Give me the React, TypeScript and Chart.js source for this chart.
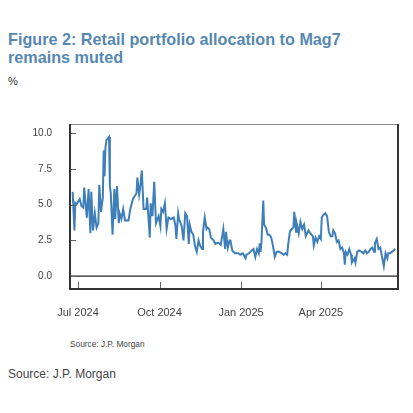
import React, { useEffect, useRef } from "react";
import { Chart, registerables } from "chart.js";

Chart.register(...registerables);

const TITLE_LINES = ["Figure 2: Retail portfolio allocation to Mag7", "remains muted"];
const UNIT_LABEL = "%";
const SOURCE_INNER = "Source: J.P. Morgan";
const SOURCE_OUTER = "Source: J.P. Morgan";

// x positions are days since 1 Jul 2024
const X_TICK_DAYS = [0, 92, 184, 274];
const X_TICK_LABELS = ["Jul 2024", "Oct 2024", "Jan 2025", "Apr 2025"];
const Y_TICKS = [0, 2.5, 5, 7.5, 10];

const DAYS = [
  -6, -4, -3, -2, 0, 2, 4, 6, 7, 10, 12, 14, 15, 17, 19, 21, 23, 24, 26, 28,
  29, 30, 31, 32, 35, 36, 37, 39, 41, 42, 44, 46, 47, 49, 51, 53, 57, 59, 62, 66,
  67, 69, 70, 72, 74, 77, 78, 81, 82, 84, 86, 88, 91, 93, 94, 96, 98, 100, 102, 105,
  108, 110, 111, 113, 114, 117, 119, 121, 123, 125, 126, 128, 130, 132, 134, 136, 138, 140, 141, 143,
  145, 146, 148, 150, 153, 155, 158, 161, 163, 164, 166, 167, 169, 171, 172, 174, 177, 181, 183, 186,
  189, 190, 193, 196, 198, 200, 202, 204, 205, 206, 207, 209, 210, 212, 214, 216, 218, 220, 222, 224,
  227, 230, 232, 234, 236, 237, 239, 241, 243, 244, 246, 247, 249, 251, 253, 255, 257, 260, 262, 265,
  266, 268, 270, 272, 274, 275, 277, 279, 281, 283, 285, 287, 288, 290, 292, 294, 296, 298, 300, 301,
  302, 304, 306, 308, 309, 312, 313, 315, 317, 320, 322, 324, 326, 328, 330, 332, 334, 335, 337, 339,
  341, 343, 345, 347, 349, 350, 352, 354, 356, 358,
];

const ALLOCATION = [
  5.9, 3.2, 5.1, 5.0, 5.2, 5.4, 4.9, 4.8, 6.2, 4.1, 6.1, 3.0, 5.9, 3.2, 4.4, 3.4, 3.7, 6.4, 4.5, 5.5,
  8.8, 7.0, 9.0, 9.5, 9.75, 6.3, 5.8, 2.9, 6.1, 4.0, 6.3, 3.7, 4.4, 4.0, 4.7, 3.9, 3.9, 4.7, 5.4, 5.8,
  6.9, 5.7, 6.1, 7.4, 4.7, 4.7, 5.5, 2.7, 5.1, 4.2, 6.6, 3.7, 4.2, 3.5, 4.7, 4.5, 5.1, 3.3, 4.1, 4.0,
  4.1, 3.5, 2.6, 4.4, 4.0, 3.5, 2.5, 4.4, 4.2, 2.25, 3.6, 3.1, 2.9, 2.1, 1.7, 2.5, 2.1, 1.9, 3.1, 4.1,
  3.3, 3.4, 3.3, 2.7, 2.5, 2.25, 2.35, 2.2, 2.9, 3.3, 1.9, 3.1, 2.0, 2.5, 2.5, 1.8, 1.6, 1.6, 1.5, 1.6,
  1.25, 1.5, 1.6, 1.8, 1.9, 1.35, 1.9, 1.6, 2.3, 1.7, 2.4, 5.3, 3.6, 3.4, 2.9, 2.9, 2.7, 2.1, 1.35, 1.7,
  1.7, 1.6, 1.5, 1.6, 1.5, 2.15, 3.1, 3.3, 3.4, 4.5, 3.1, 3.6, 3.0, 3.8, 3.3, 3.6, 2.8, 3.2, 3.0, 2.8,
  2.15, 2.7, 2.4, 2.8, 2.6, 4.1, 4.3, 4.4, 4.2, 3.1, 2.8, 2.8, 3.2, 3.0, 2.4, 2.5, 1.9, 2.0, 1.6, 0.8,
  1.7, 1.5, 1.9, 1.5, 0.95, 1.25, 0.95, 1.7, 1.8, 1.7, 1.6, 1.8, 1.6, 1.7, 1.9, 2.0, 1.7, 2.3, 2.6, 1.9,
  2.0, 1.35, 0.7, 1.6, 1.25, 1.6, 1.6, 1.7, 1.8, 1.9,
];

const LINE_COLOR = "#3f7fb9";
const TITLE_COLOR = "#5688b3";
const FONT = "'Liberation Sans', Arial, sans-serif";

const framePlugin = {
  id: "frame",
  afterDraw(chart: any) {
    const { ctx, chartArea } = chart;
    const { left, right, top, bottom } = chartArea;
    const x = chart.scales.x;
    const y = chart.scales.y;
    ctx.save();
    // zero line
    const y0 = y.getPixelForValue(0);
    ctx.strokeStyle = "#222";
    ctx.lineWidth = 1.2;
    ctx.beginPath();
    ctx.moveTo(left, y0);
    ctx.lineTo(right, y0);
    ctx.stroke();
    // y tick marks (inward)
    ctx.strokeStyle = "#666";
    ctx.lineWidth = 1;
    Y_TICKS.forEach((v) => {
      const py = Math.round(y.getPixelForValue(v)) + 0.5;
      ctx.beginPath();
      ctx.moveTo(left, py);
      ctx.lineTo(left + 6, py);
      ctx.stroke();
    });
    // x tick marks (inward from bottom)
    X_TICK_DAYS.forEach((d) => {
      const px = Math.round(x.getPixelForValue(d)) + 0.5;
      ctx.beginPath();
      ctx.moveTo(px, bottom);
      ctx.lineTo(px, bottom - 7);
      ctx.stroke();
    });
    // frame
    ctx.strokeStyle = "#8a8a8a";
    ctx.lineWidth = 1;
    ctx.beginPath();
    ctx.moveTo(left, top + 0.5);
    ctx.lineTo(right, top + 0.5);
    ctx.stroke();
    ctx.strokeStyle = "#333";
    ctx.lineWidth = 2;
    ctx.beginPath();
    ctx.moveTo(left, top);
    ctx.lineTo(left, bottom);
    ctx.lineTo(right, bottom);
    ctx.lineTo(right, top);
    ctx.stroke();
    ctx.restore();
  },
};

export default function App() {
  const canvasRef = useRef<HTMLCanvasElement | null>(null);

  useEffect(() => {
    const canvas = canvasRef.current;
    if (!canvas) return;
    const points = DAYS.map((d, i) => ({ x: d, y: ALLOCATION[i] }));
    const chart = new Chart(canvas, {
      type: "line",
      data: {
        datasets: [
          {
            data: points,
            borderColor: LINE_COLOR,
            borderWidth: 2,
            pointRadius: 0,
            tension: 0,
            fill: false,
          },
        ],
      },
      options: {
        animation: false,
        responsive: false,
        devicePixelRatio: 1,
        layout: { padding: { left: 0, right: 15, top: 16, bottom: 6 } },
        plugins: {
          legend: { display: false },
          tooltip: { enabled: false },
          title: { display: false },
        },
        scales: {
          x: {
            type: "linear",
            min: -9,
            max: 361,
            grid: { display: false, drawTicks: false },
            border: { display: false },
            afterBuildTicks: (scale: any) => {
              scale.ticks = X_TICK_DAYS.map((v) => ({ value: v }));
            },
            afterFit: (scale: any) => {
              scale.height = 35;
            },
            ticks: {
              autoSkip: false,
              maxRotation: 0,
              padding: 17,
              color: "#444",
              font: { family: FONT, size: 11 },
              callback: (value: any) => {
                const idx = X_TICK_DAYS.indexOf(Number(value));
                return idx >= 0 ? X_TICK_LABELS[idx] : "";
              },
            },
          },
          y: {
            type: "linear",
            min: -0.9,
            max: 10.65,
            grid: { display: false, drawTicks: false },
            border: { display: false },
            afterBuildTicks: (scale: any) => {
              scale.ticks = Y_TICKS.map((v) => ({ value: v }));
            },
            afterFit: (scale: any) => {
              scale.width = 70;
            },
            ticks: {
              padding: 18,
              color: "#444",
              font: { family: FONT, size: 10 },
              callback: (value: any) => Number(value).toFixed(1),
            },
          },
        },
      },
      plugins: [framePlugin],
    });
    return () => chart.destroy();
  }, []);

  return (
    <div
      style={{
        position: "fixed",
        left: 0,
        top: 0,
        width: 413,
        height: 413,
        background: "#fff",
        fontFamily: FONT,
        overflow: "hidden",
      }}
    >
      <div
        style={{
          position: "absolute",
          left: 8,
          top: 30,
          color: TITLE_COLOR,
          fontWeight: "bold",
          fontSize: 16.2,
          lineHeight: "18px",
          whiteSpace: "nowrap",
        }}
      >
        {TITLE_LINES.map((l, i) => (
          <div key={i}>{l}</div>
        ))}
      </div>
      <div style={{ position: "absolute", left: 8, top: 75, fontSize: 11, color: "#333" }}>
        {UNIT_LABEL}
      </div>
      <canvas
        ref={canvasRef}
        width={413}
        height={230}
        style={{ position: "absolute", left: 0, top: 100, width: 413, height: 230 }}
      />
      <div style={{ position: "absolute", left: 70, top: 339, fontSize: 8.3, color: "#444" }}>
        {SOURCE_INNER}
      </div>
      <div style={{ position: "absolute", left: 8, top: 367, fontSize: 12, color: "#444" }}>
        {SOURCE_OUTER}
      </div>
    </div>
  );
}
